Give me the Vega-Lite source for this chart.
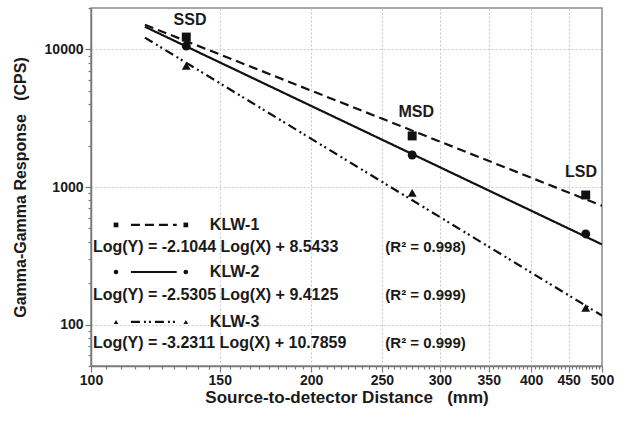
{
  "$schema": "https://vega.github.io/schema/vega-lite/v6.json",
  "autosize": {"type": "none"},
  "padding": {"left": 91, "top": 8, "right": 24, "bottom": 55},
  "width": 511,
  "height": 358,
  "background": "white",
  "config": {
    "view": {"stroke": "#8a8a8a", "strokeWidth": 1.5},
    "font": "Liberation Sans",
    "text": {"font": "Liberation Sans", "fontWeight": "bold", "color": "#1a1a1a"}
  },
  "datasets": {
    "pts": [
      {"series": "KLW-1", "x": 135, "y": 12300},
      {"series": "KLW-1", "x": 275, "y": 2350},
      {"series": "KLW-1", "x": 475, "y": 875},
      {"series": "KLW-2", "x": 135, "y": 10590},
      {"series": "KLW-2", "x": 275, "y": 1709},
      {"series": "KLW-2", "x": 475, "y": 456},
      {"series": "KLW-3", "x": 135, "y": 7577},
      {"series": "KLW-3", "x": 275, "y": 905},
      {"series": "KLW-3", "x": 475, "y": 132}
    ],
    "fits": [
      {"series": "KLW-1", "x": 118.5, "y": 15110},
      {"series": "KLW-1", "x": 500, "y": 730.5},
      {"series": "KLW-2", "x": 118.5, "y": 14620},
      {"series": "KLW-2", "x": 500, "y": 382.4},
      {"series": "KLW-3", "x": 118.5, "y": 12180},
      {"series": "KLW-3", "x": 500, "y": 116.2}
    ],
    "legline": [
      {"series": "KLW-1", "x": 113.4, "y": 530},
      {"series": "KLW-1", "x": 131, "y": 530},
      {"series": "KLW-2", "x": 113.4, "y": 241},
      {"series": "KLW-2", "x": 131, "y": 241},
      {"series": "KLW-3", "x": 113.4, "y": 104.5},
      {"series": "KLW-3", "x": 131, "y": 104.5}
    ],
    "legmark": [
      {"series": "KLW-1", "x": 108.2, "y": 530},
      {"series": "KLW-1", "x": 134.8, "y": 530},
      {"series": "KLW-2", "x": 108.2, "y": 241},
      {"series": "KLW-2", "x": 134.8, "y": 241},
      {"series": "KLW-3", "x": 108.2, "y": 104.5},
      {"series": "KLW-3", "x": 134.8, "y": 104.5}
    ],
    "legtext": [
      {"label": "KLW-1", "x": 145.4, "y": 530},
      {"label": "KLW-2", "x": 145.4, "y": 241},
      {"label": "KLW-3", "x": 145.4, "y": 104.5},
      {"label": "Log(Y) = -2.1044 Log(X) + 8.5433", "x": 100.6, "y": 366},
      {"label": "Log(Y) = -2.5305 Log(X) + 9.4125", "x": 100.6, "y": 164},
      {"label": "Log(Y) = -3.2311 Log(X) + 10.7859", "x": 100.6, "y": 73.5}
    ],
    "r2text": [
      {"label": "(R² = 0.998)", "x": 252.7, "y": 366},
      {"label": "(R² = 0.999)", "x": 252.7, "y": 164},
      {"label": "(R² = 0.999)", "x": 252.7, "y": 73.5}
    ],
    "ann": [
      {"label": "SSD", "x": 136.6, "y": 16370},
      {"label": "MSD", "x": 278.6, "y": 3525},
      {"label": "LSD", "x": 468, "y": 1291}
    ]
  },
  "encoding": {
    "x": {
      "field": "x", "type": "quantitative",
      "scale": {"type": "log", "domain": [100, 500], "nice": false},
      "axis": {
        "title": "Source-to-detector Distance \u00a0 (mm)",
        "titleFont": "Liberation Sans", "titleFontSize": 17, "titleFontWeight": "bold", "titleColor": "#1a1a1a",
        "titlePadding": 2,
        "values": [100,105,110,115,120,125,130,135,140,145,150,155,160,165,170,175,180,185,190,195,200,205,210,215,220,225,230,235,240,245,250,255,260,265,270,275,280,285,290,295,300,305,310,315,320,325,330,335,340,345,350,355,360,365,370,375,380,385,390,395,400,405,410,415,420,425,430,435,440,445,450,455,460,465,470,475,480,485,490,495,500],
        "labelExpr": "datum.value % 50 == 0 ? format(datum.value, 'd') : ''",
        "labelOverlap": false, "labelFlush": false,
        "labelFont": "Liberation Sans", "labelFontSize": 14, "labelFontWeight": "bold", "labelColor": "#1a1a1a",
        "labelPadding": 1,
        "domainColor": "#7a7a7a", "domainWidth": 1.5,
        "tickColor": "#7a7a7a", "tickWidth": 1.2,
        "tickSize": {"condition": {"test": "datum.value % 50 == 0", "value": 6}, "value": 3},
        "grid": true, "gridColor": "#c8c8c8", "gridDash": [2, 2], "gridWidth": 1,
        "gridOpacity": {"condition": {"test": "datum.value % 50 == 0 && datum.value > 100 && datum.value < 500", "value": 1}, "value": 0}
      }
    },
    "y": {
      "field": "y", "type": "quantitative",
      "scale": {"type": "log", "domain": [50, 20000], "nice": false},
      "axis": {
        "title": "Gamma-Gamma Response \u00a0 (CPS)",
        "titleFont": "Liberation Sans", "titleFontSize": 16, "titleFontWeight": "bold", "titleColor": "#1a1a1a",
        "titlePadding": 16,
        "values": [50,60,70,80,90,100,200,300,400,500,600,700,800,900,1000,2000,3000,4000,5000,6000,7000,8000,9000,10000,20000],
        "labelExpr": "(datum.value == 100 || datum.value == 1000 || datum.value == 10000) ? format(datum.value, 'd') : ''",
        "labelOverlap": false, "labelFlush": false,
        "labelFont": "Liberation Sans", "labelFontSize": 14, "labelFontWeight": "bold", "labelColor": "#1a1a1a",
        "labelPadding": 2,
        "domainColor": "#7a7a7a", "domainWidth": 1.5,
        "tickColor": "#7a7a7a", "tickWidth": 1.2,
        "tickSize": {"condition": {"test": "datum.value == 100 || datum.value == 1000 || datum.value == 10000", "value": 6}, "value": 3},
        "grid": true, "gridColor": "#c8c8c8", "gridDash": [2, 2], "gridWidth": 1,
        "gridOpacity": {"condition": {"test": "datum.value == 100 || datum.value == 1000 || datum.value == 10000", "value": 1}, "value": 0}
      }
    }
  },
  "layer": [
    {
      "data": {"name": "fits"},
      "mark": {"type": "line", "color": "#111", "strokeWidth": 2.2, "clip": true},
      "encoding": {
        "detail": {"field": "series"},
        "strokeDash": {"field": "series", "type": "nominal", "scale": {"domain": ["KLW-1", "KLW-2", "KLW-3"], "range": [[9, 5], [1, 0], [9, 4, 2, 3, 2, 4]]}, "legend": null}
      }
    },
    {
      "data": {"name": "legline"},
      "mark": {"type": "line", "color": "#111", "strokeWidth": 2.2},
      "encoding": {
        "detail": {"field": "series"},
        "strokeDash": {"field": "series", "type": "nominal", "legend": null}
      }
    },
    {
      "data": {"name": "pts"},
      "mark": {"type": "point", "filled": true, "color": "#111", "opacity": 1, "size": 80},
      "encoding": {
        "shape": {"field": "series", "type": "nominal", "scale": {"domain": ["KLW-1", "KLW-2", "KLW-3"], "range": ["square", "circle", "triangle-up"]}, "legend": null}
      }
    },
    {
      "data": {"name": "legmark"},
      "mark": {"type": "point", "filled": true, "color": "#111", "opacity": 1, "size": 22},
      "encoding": {
        "shape": {"field": "series", "type": "nominal", "legend": null}
      }
    },
    {
      "data": {"name": "legtext"},
      "mark": {"type": "text", "align": "left", "baseline": "middle", "fontSize": 16, "fontWeight": "bold", "color": "#1a1a1a"},
      "encoding": {"text": {"field": "label"}}
    },
    {
      "data": {"name": "r2text"},
      "mark": {"type": "text", "align": "left", "baseline": "middle", "fontSize": 15, "fontWeight": "bold", "color": "#1a1a1a"},
      "encoding": {"text": {"field": "label"}}
    },
    {
      "data": {"name": "ann"},
      "mark": {"type": "text", "align": "center", "baseline": "middle", "fontSize": 16, "fontWeight": "bold", "color": "#1a1a1a"},
      "encoding": {"text": {"field": "label"}}
    }
  ]
}
